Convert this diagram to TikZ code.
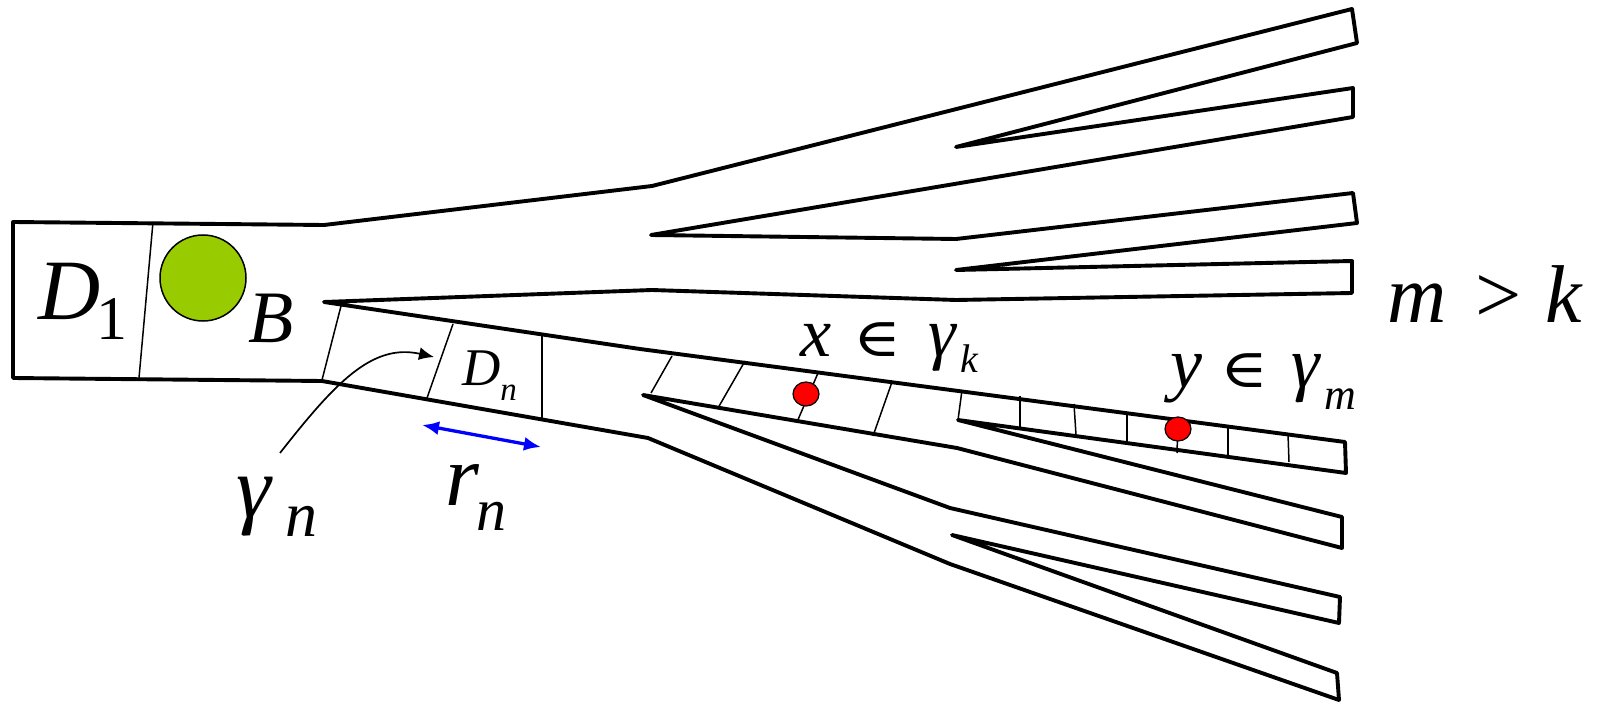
\documentclass[tikz,border=0pt]{standalone}
\usepackage{fontspec}
\newfontfamily\tnr{Liberation Serif}
\newfontfamily\symf{DejaVu Serif}
\usetikzlibrary{arrows.meta}
\definecolor{bgreen}{HTML}{99CC00}
\definecolor{dred}{HTML}{FF0000}
\definecolor{ablue}{HTML}{0000FF}
\newcommand{\fs}[1]{\fontsize{#1pt}{#1pt}\selectfont\tnr\itshape}
\newcommand{\elem}{{\fontsize{54pt}{54pt}\selectfont\symf\upshape\scalebox{1.2}[1]{∈}}}
\begin{document}
\begin{tikzpicture}[x=1pt,y=-1pt,
  outline/.style={line width=3.9pt, line join=round, line cap=round},
  hatch/.style={line width=1.5pt},
  reddot/.style={fill=dred, draw=black, line width=1.2pt},
  lab/.style={anchor=base west, inner sep=0pt, outer sep=0pt}]
\useasboundingbox (0,0) rectangle (1615,703);
% main outline
\draw[outline] (13,222) -- (324,225) -- (652,186) -- (1352,9) -- (1357,43) -- (956,147)
  -- (1353,88) -- (1353,117) -- (651,235) -- (956,239) -- (1353,193) -- (1357,223)
  -- (956,270) -- (1352,261) -- (1352,293) -- (956,300) -- (652,290) -- (324,302)
  -- (640,349) -- (1345,442) -- (1346,473) -- (958,420) -- (1342,517) -- (1342,548)
  -- (957,448) -- (643,395) -- (950,508) -- (1340,597) -- (1339,623) -- (952,535)
  -- (1337,673) -- (1339,700) -- (950,564) -- (648,438) -- (322,381) -- (13,378) -- cycle;
% dividers
\draw[hatch] (153,222) -- (139,378);
\draw[hatch] (341,306) -- (322,380);
\draw[hatch] (453,324) -- (427,398);
\draw[hatch] (542,335) -- (542,421);
% k branch hatches
\draw[hatch] (672,356) -- (651,393);
\draw[hatch] (745,361) -- (718,408);
\draw[hatch] (818,373) -- (797,422);
\draw[hatch] (892,382) -- (873,436);
\draw[hatch] (962,390) -- (958,420);
% m branch hatches
\draw[hatch] (1020,396) -- (1020,427);
\draw[hatch] (1074,404) -- (1076,435);
\draw[hatch] (1127,412) -- (1127,442);
\draw[hatch] (1178,420) -- (1177,453);
\draw[hatch] (1228,427) -- (1228,456);
\draw[hatch] (1288,434) -- (1289,462);
% ball and points
\draw[fill=bgreen, line width=1.5pt] (203,278) circle[radius=43pt];
\draw[reddot] (806,394) ellipse[x radius=13pt, y radius=12pt];
\draw[reddot] (1178,429) ellipse[x radius=13pt, y radius=12pt];
% connectors
\coordinate (gstart) at (280,453);
\coordinate (gend) at (434,357);
\draw[line width=1.7pt, -{Latex[length=15pt,width=13pt]}] (gstart) .. controls (335,383) and (372,343) .. (gend);
\coordinate (ra) at (422,425);
\coordinate (rb) at (541,447);
\draw[ablue, line width=3.3pt, {Latex[length=17pt,width=14pt]}-{Latex[length=17pt,width=14pt]}] (ra) -- (rb);
% labels
\node[lab] (d1) at (38,320) {\fs{86}\rlap{D}\hspace{58pt}\raisebox{-20pt}{\fs{62}\upshape 1}};
\node[lab] (blab) at (248,343) {\fs{74}B};
\node[lab] (dn) at (462,385) {\fs{53}D\raisebox{-15pt}{\fs{33}n}};
\node[lab] (gn) at (236,517) {\fs{88}\rlap{γ}\hspace{49pt}\raisebox{-19pt}{\fs{64}n}};
\node[lab] (rn) at (445,505) {\fs{87}\rlap{r}\hspace{31pt}\raisebox{-25pt}{\fs{60}n}};
\node[lab] (xlab) at (800,357) {\fs{70}\rlap{x}\hspace{53pt}\rlap{\elem}\hspace{75pt}\rlap{γ}\hspace{32pt}\raisebox{-16pt}{\fs{40}k}};
\node[lab] (ylab) at (1170,388) {\fs{72}\rlap{y}\hspace{50pt}\rlap{\elem}\hspace{71pt}\rlap{γ}\hspace{33pt}\raisebox{-21pt}{\fs{44}m}};
\node[lab] (mk) at (1387,323) {\fs{82}\rlap{m}\hspace{88pt}\rlap{\upshape >}\hspace{70pt}k};
\end{tikzpicture}
\end{document}
